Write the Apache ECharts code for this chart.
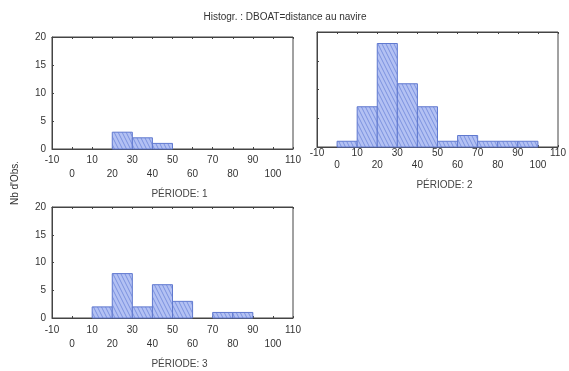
<!DOCTYPE html>
<html>
<head>
<meta charset="utf-8">
<script src="https://cdn.jsdelivr.net/npm/echarts@6/dist/echarts.min.js"></script>
<style>
  html, body { margin: 0; padding: 0; background: #ffffff; }
  #chart { width: 569px; height: 371px; }
</style>
</head>
<body>
<div id="chart"></div>
<script>
// Histogram of DBOAT (distance au navire), one panel per period
const binLows = [0, 10, 20, 30, 40, 50, 60, 70, 80, 90];
const binWidth = 10;
const counts1 = [0, 0, 3, 2, 1, 0, 0, 0, 0, 0];
const counts2 = [1, 7, 18, 11, 7, 1, 2, 1, 1, 1];
const counts3 = [0, 2, 8, 2, 6, 3, 0, 1, 1, 0];
const periodNames = ['PÉRIODE: 1', 'PÉRIODE: 2', 'PÉRIODE: 3'];
const xTicksRowA = [-10, 10, 30, 50, 70, 90, 110];
const xTicksRowB = [0, 20, 40, 60, 80, 100];
const yTicks = [0, 5, 10, 15, 20];

// hatched fill for the bars
function hatchPattern() {
  const c = document.createElement('canvas');
  c.width = 4; c.height = 8;
  const g = c.getContext('2d');
  g.fillStyle = '#b3c1f3';
  g.fillRect(0, 0, 4, 8);
  g.strokeStyle = '#7c92df';
  g.lineWidth = 1;
  g.beginPath();
  g.moveTo(-1, -2); g.lineTo(5, 10);
  g.moveTo(-5, -2); g.lineTo(1, 10);
  g.moveTo(3, -2); g.lineTo(9, 10);
  g.stroke();
  return { image: c, repeat: 'repeat' };
}
const barFill = hatchPattern();

const panels = [
  { counts: counts1, grid: { left: 52, top: 37, width: 241, height: 112 }, yLabels: true, mA: 6, mB: 20, titleY: 184 },
  { counts: counts2, grid: { left: 317, top: 32, width: 241, height: 115 }, yLabels: false, mA: 1, mB: 13, titleY: 175 },
  { counts: counts3, grid: { left: 52, top: 207, width: 241, height: 111 }, yLabels: true, mA: 7, mB: 21, titleY: 354 }
];

const textColor = '#333';
const lineColor = '#444';
const grids = [], xAxes = [], yAxes = [], series = [], titles = [];

titles.push({
  text: 'Histogr. : DBOAT=distance au navire',
  left: 280, top: 7, textAlign: 'center',
  textStyle: { fontFamily: 'Liberation Sans', fontSize: 10, fontWeight: 'normal', color: textColor }
});

panels.forEach((p, i) => {
  grids.push(Object.assign({ show: true, borderColor: lineColor, borderWidth: 1, backgroundColor: 'transparent' }, p.grid));
  const base = {
    type: 'value', gridIndex: i, min: xTicksRowA[0], max: xTicksRowA[xTicksRowA.length - 1], interval: 10,
    splitLine: { show: false }
  };
  // first row of tick labels
  xAxes.push(Object.assign({}, base, {
    position: 'bottom',
    axisLine: { show: true, onZero: false, lineStyle: { color: lineColor } },
    axisTick: { show: true, inside: true, length: 2, lineStyle: { color: lineColor } },
    axisLabel: {
      margin: p.mA, fontFamily: 'Liberation Sans', fontSize: 10, color: textColor,
      showMinLabel: true, showMaxLabel: true,
      formatter: v => xTicksRowA.indexOf(v) >= 0 ? String(v) : ''
    }
  }));
  // second, staggered row of tick labels
  xAxes.push(Object.assign({}, base, {
    position: 'bottom',
    axisLine: { show: false, onZero: false }, axisTick: { show: false },
    axisLabel: {
      margin: p.mB, fontFamily: 'Liberation Sans', fontSize: 10, color: textColor,
      formatter: v => xTicksRowB.indexOf(v) >= 0 ? String(v) : ''
    }
  }));
  // top edge ticks
  xAxes.push(Object.assign({}, base, {
    position: 'top',
    axisLine: { show: true, onZero: false, lineStyle: { color: lineColor } },
    axisTick: { show: true, inside: true, length: 2, lineStyle: { color: lineColor } },
    axisLabel: { show: false }
  }));
  yAxes.push({
    type: 'value', gridIndex: i, min: yTicks[0], max: yTicks[yTicks.length - 1], interval: 5,
    position: 'left',
    splitLine: { show: false },
    axisLine: { show: true, onZero: false, lineStyle: { color: lineColor } },
    axisTick: { show: true, inside: true, length: 2, lineStyle: { color: lineColor } },
    axisLabel: { show: p.yLabels, margin: 6, fontFamily: 'Liberation Sans', fontSize: 10, color: textColor }
  });
  const data = [];
  binLows.forEach((lo, k) => { if (p.counts[k] > 0) data.push([lo, lo + binWidth, p.counts[k]]); });
  series.push({
    type: 'custom', xAxisIndex: i * 3, yAxisIndex: i,
    data: data,
    renderItem: function (params, api) {
      const a = api.coord([api.value(0), api.value(2)]);
      const b = api.coord([api.value(1), 0]);
      return {
        type: 'rect',
        shape: { x: a[0], y: a[1], width: b[0] - a[0], height: b[1] - a[1] },
        style: { fill: barFill, stroke: '#6079cf', lineWidth: 1 }
      };
    },
    encode: { x: [0, 1], y: 2 }
  });
  titles.push({
    text: periodNames[i],
    left: p.grid.left + p.grid.width / 2 + 2, top: p.titleY, textAlign: 'center',
    textStyle: { fontFamily: 'Liberation Sans', fontSize: 10, fontWeight: 'normal', color: '#444' }
  });
});

const chart = echarts.init(document.getElementById('chart'), null, { renderer: 'canvas' });
chart.setOption({
  backgroundColor: '#ffffff',
  animation: false,
  title: titles,
  grid: grids,
  xAxis: xAxes,
  yAxis: yAxes,
  series: series,
  graphic: [{
    type: 'text', x: 15, y: 183, rotation: Math.PI / 2,
    style: { text: "Nb d'Obs.", font: '10px "Liberation Sans"', fill: textColor, textAlign: 'center', textVerticalAlign: 'middle' }
  }]
});
</script>
</body>
</html>
